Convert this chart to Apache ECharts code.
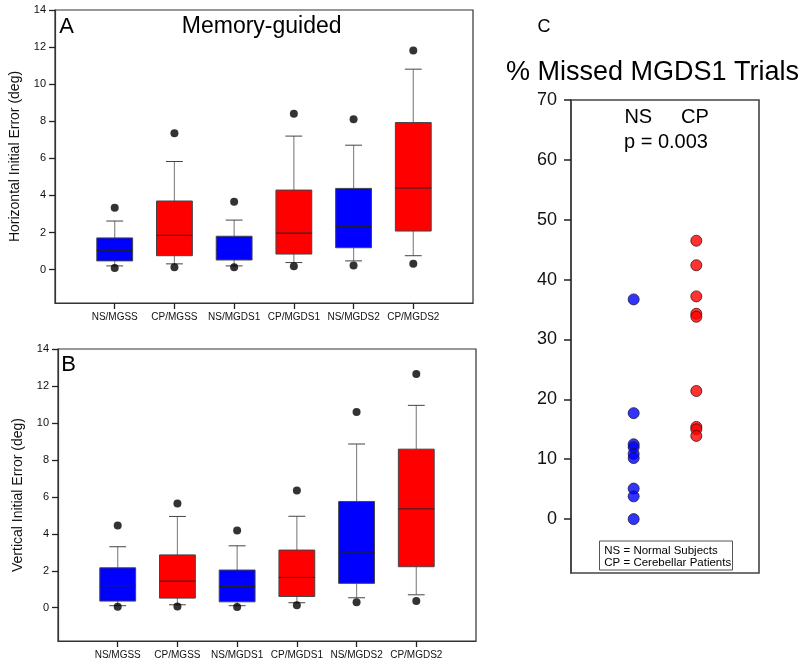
<!DOCTYPE html>
<html><head><meta charset="utf-8">
<script src="https://cdn.jsdelivr.net/npm/echarts@6/dist/echarts.min.js"></script>
<style>html,body{margin:0;padding:0;background:#fff}#c{width:800px;height:669px}</style>
</head><body><div id="c"></div>
<script>
const categories = ['NS/MGSS','CP/MGSS','NS/MGDS1','CP/MGDS1','NS/MGDS2','CP/MGDS2'];
const groupColors = ['#0000ff','#ff0000','#0000ff','#ff0000','#0000ff','#ff0000'];
// [lower whisker, Q1, median, Q3, upper whisker]
const horizontalBoxes = [
  [0.20,0.47,1.04,1.71,2.62],
  [0.31,0.75,1.85,3.70,5.83],
  [0.20,0.52,1.08,1.80,2.67],
  [0.38,0.84,1.97,4.29,7.20],
  [0.47,1.18,2.32,4.38,6.71],
  [0.75,2.08,4.40,7.93,10.81]
];
const horizontalOutliersHigh = [3.34,7.36,3.66,8.40,8.11,11.81];
const horizontalOutliersLow = [0.09,0.13,0.13,0.18,0.22,0.31];
const verticalBoxes = [
  [0.11,0.36,1.19,2.16,3.30],
  [0.16,0.52,1.44,2.86,4.94],
  [0.11,0.32,1.15,2.04,3.35],
  [0.27,0.61,1.64,3.12,4.95],
  [0.54,1.32,3.01,5.75,8.86],
  [0.70,2.22,5.35,8.58,10.95]
];
const verticalOutliersHigh = [4.45,5.64,4.18,6.34,10.59,12.65];
const verticalOutliersLow = [0.05,0.07,0.04,0.13,0.29,0.36];
const errorTicks = [0,2,4,6,8,10,12,14];
const missedGroups = ['NS','CP'];
const nsMissed = [36.7,17.7,12.5,12.0,10.9,10.2,5.1,3.8,0];
const cpMissed = [46.5,42.4,37.2,34.3,33.8,21.4,15.4,15.0,13.9];
const missedTicks = [0,10,20,30,40,50,60,70];

const FF = '"Liberation Sans", Arial, Helvetica, sans-serif';
const paddedCats = [''].concat(categories, ['']);
const paddedGroups = [''].concat(missedGroups, ['']);

function renderBox(params, api) {
  const x = api.value(0);
  const pLow = api.coord([x, api.value(1)]);
  const pQ1 = api.coord([x, api.value(2)]);
  const pMed = api.coord([x, api.value(3)]);
  const pQ3 = api.coord([x, api.value(4)]);
  const pHigh = api.coord([x, api.value(5)]);
  const band = api.size([1, 0])[0];
  const bw = band * 0.6;
  const cw = bw * 0.47;
  const cx = pLow[0];
  const color = groupColors[params.dataIndex];
  return {
    type: 'group',
    children: [
      {type:'line', shape:{x1:cx,y1:pQ3[1],x2:cx,y2:pHigh[1]}, style:{stroke:'#8a8a8a',lineWidth:1.2}},
      {type:'line', shape:{x1:cx,y1:pQ1[1],x2:cx,y2:pLow[1]}, style:{stroke:'#8a8a8a',lineWidth:1.2}},
      {type:'line', shape:{x1:cx-cw/2,y1:pHigh[1],x2:cx+cw/2,y2:pHigh[1]}, style:{stroke:'#444',lineWidth:1}},
      {type:'line', shape:{x1:cx-cw/2,y1:pLow[1],x2:cx+cw/2,y2:pLow[1]}, style:{stroke:'#444',lineWidth:1}},
      {type:'rect', shape:{x:cx-bw/2,y:pQ3[1],width:bw,height:pQ1[1]-pQ3[1]}, style:{fill:color,stroke:'#444',lineWidth:1}},
      {type:'line', shape:{x1:cx-bw/2,y1:pMed[1],x2:cx+bw/2,y2:pMed[1]}, style:{stroke:'#222',lineWidth:1}}
    ]
  };
}

function boxAxesX(gi) {
  return {
    gridIndex: gi, type: 'category', data: paddedCats, boundaryGap: false,
    axisLine: {show: true, onZero: false, lineStyle: {color: '#333', width: 1.2}}, splitLine: {show: false},
    axisTick: {show: true, length: 6, interval: function (idx, val) { return val !== ''; }, lineStyle: {color: '#222', width: 1.3}},
    axisLabel: {interval: 0, margin: 9, fontSize: 10, color: '#111', fontFamily: FF}
  };
}
function boxAxesY(gi, name) {
  return {
    gridIndex: gi, type: 'value', min: -1.8, max: 14,
    axisLine: {show: true, onZero: false, lineStyle: {color: '#333', width: 1.2}}, splitLine: {show: false},
    axisTick: {show: true, length: 6, customValues: errorTicks, lineStyle: {color: '#222', width: 1.3}},
    axisLabel: {customValues: errorTicks, margin: 9, fontSize: 11, color: '#111', fontFamily: FF},
    name: name, nameLocation: 'middle', nameGap: 33,
    nameTextStyle: {fontSize: 14, color: '#111', fontFamily: FF}
  };
}
function txt(t, x, y, size) {
  return {type:'text', x:x, y:y, style:{text:t, font: size + 'px ' + FF, fill:'#000',
    align:'center', verticalAlign:'middle', textAlign:'center', textVerticalAlign:'middle'}};
}

const chart = echarts.init(document.getElementById('c'));
chart.setOption({
  backgroundColor: '#fff',
  animation: false,
  grid: [
    {left: 55, top: 10, width: 418, height: 293, show: true, borderColor: '#333', borderWidth: 1.2},
    {left: 58, top: 349, width: 418, height: 292, show: true, borderColor: '#333', borderWidth: 1.2},
    {left: 571, top: 100, width: 188, height: 473, show: true, borderColor: '#444', borderWidth: 1.6}
  ],
  xAxis: [
    boxAxesX(0), boxAxesX(1),
    {gridIndex: 2, type: 'category', data: paddedGroups, boundaryGap: false,
     axisLine: {show: false, onZero: false}, axisTick: {show: false}, axisLabel: {show: false}, splitLine: {show: false}}
  ],
  yAxis: [
    boxAxesY(0, 'Horizontal Initial Error (deg)'),
    boxAxesY(1, 'Vertical Initial Error (deg)'),
    {gridIndex: 2, type: 'value', min: -9, max: 70,
     axisLine: {show: true, onZero: false, lineStyle: {color: '#444', width: 1.6}}, splitLine: {show: false},
     axisTick: {show: true, length: 7, customValues: missedTicks, lineStyle: {color: '#222', width: 1.5}},
     axisLabel: {customValues: missedTicks, margin: 14, fontSize: 18, color: '#111', fontFamily: FF}}
  ],
  series: [
    {type: 'custom', xAxisIndex: 0, yAxisIndex: 0, renderItem: renderBox,
     encode: {x: 0, y: [1,2,3,4,5]}, data: horizontalBoxes.map((b, i) => [i + 1].concat(b)), z: 2},
    {type: 'scatter', xAxisIndex: 0, yAxisIndex: 0, symbolSize: 8, itemStyle: {color: '#000'}, z: 3,
     data: horizontalOutliersHigh.map((v, i) => [i + 1, v]).concat(horizontalOutliersLow.map((v, i) => [i + 1, v]))},
    {type: 'custom', xAxisIndex: 1, yAxisIndex: 1, renderItem: renderBox,
     encode: {x: 0, y: [1,2,3,4,5]}, data: verticalBoxes.map((b, i) => [i + 1].concat(b)), z: 2},
    {type: 'scatter', xAxisIndex: 1, yAxisIndex: 1, symbolSize: 8, itemStyle: {color: '#000'}, z: 3,
     data: verticalOutliersHigh.map((v, i) => [i + 1, v]).concat(verticalOutliersLow.map((v, i) => [i + 1, v]))},
    {type: 'scatter', xAxisIndex: 2, yAxisIndex: 2, symbolSize: 11,
     itemStyle: {color: '#0000ff', borderColor: '#1a1a40', borderWidth: 1},
     data: nsMissed.map(v => [missedGroups[0], v])},
    {type: 'scatter', xAxisIndex: 2, yAxisIndex: 2, symbolSize: 11,
     itemStyle: {color: '#ff0000', borderColor: '#401010', borderWidth: 1},
     data: cpMissed.map(v => [missedGroups[1], v])}
  ],
  graphic: [
    txt('A', 66.7, 26.8, 22),
    txt('Memory-guided', 261.7, 26.3, 23),
    txt('B', 68.7, 365, 22),
    txt('C', 544, 27.3, 18),
    txt('% Missed MGDS1 Trials', 652.5, 72.7, 27),
    txt('NS', 638.3, 117, 20),
    txt('CP', 695, 117, 20),
    txt('p = 0.003', 666, 142, 20),
    {type: 'rect', shape: {x: 599.5, y: 541, width: 133, height: 29},
     style: {fill: '#fff', stroke: '#555', lineWidth: 1}},
    {type: 'text', x: 604.3, y: 550.7, style: {text: 'NS = Normal Subjects', font: '11.5px ' + FF, fill: '#000',
      align: 'left', verticalAlign: 'middle', textAlign: 'left', textVerticalAlign: 'middle'}},
    {type: 'text', x: 604.3, y: 563.3, style: {text: 'CP = Cerebellar Patients', font: '11.5px ' + FF, fill: '#000',
      align: 'left', verticalAlign: 'middle', textAlign: 'left', textVerticalAlign: 'middle'}}
  ]
});
</script>
</body></html>
